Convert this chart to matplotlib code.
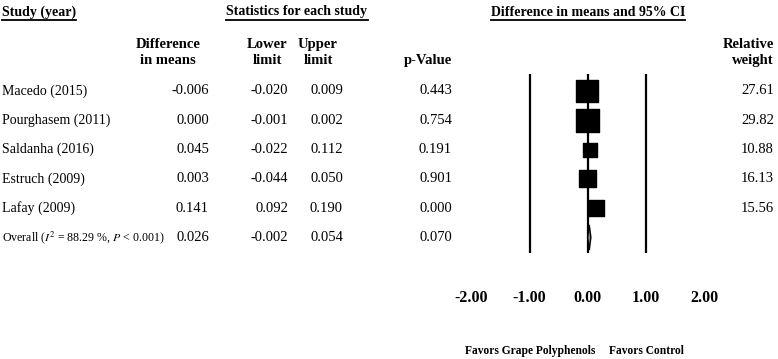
import numpy as np
import matplotlib
matplotlib.use('Agg')
import matplotlib.pyplot as plt
from matplotlib.transforms import blended_transform_factory
from matplotlib.lines import Line2D

plt.rcParams['font.family'] = ['Liberation Serif', 'DejaVu Serif']
plt.rcParams['mathtext.fontset'] = 'stix'

# data
studies = ['Macedo (2015)', 'Pourghasem (2011)', 'Saldanha (2016)',
           'Estruch (2009)', 'Lafay (2009)']
diff = [-0.006, 0.000, 0.045, 0.003, 0.141]
lower = [-0.020, -0.001, -0.022, -0.044, 0.092]
upper = [0.009, 0.002, 0.112, 0.050, 0.190]
pval = [0.443, 0.754, 0.191, 0.901, 0.000]
weight = [27.61, 29.82, 10.88, 16.13, 15.56]

overall_label = r'Overall ($I^2$ = 88.29 %, $P$ < 0.001)'
overall = (0.026, -0.002, 0.054, 0.070)

xticks = [-2, -1, 0, 1, 2]

W, H = 778, 359
fig = plt.figure(figsize=(W / 100, H / 100), dpi=100)

def fx(px):
    return px / W

def fy(py):
    return 1 - py / H

# forest axes: x -2..2 spans px 471.5..704, rows span px 74..253
ax = fig.add_axes([fx(471.5), fy(253), fx(704) - fx(471.5), (253 - 74) / H])
ax.set_xlim(-2, 2)
ax.set_ylim(5.53, -0.58)
for s in ax.spines.values():
    s.set_visible(False)
ax.set_yticks([])
ax.set_xticks(xticks)
ax.set_xticklabels(['%.2f' % t for t in xticks], fontweight='bold', fontsize=11.5)
ax.tick_params(axis='x', length=0, pad=27)

for v in (-1, 0, 1):
    ax.axvline(v, color='k', lw=1.6)

rows = np.arange(len(studies))
ax.hlines(rows, lower, upper, color='k', lw=1.2)
sizes = 9.14 * np.array(weight)
ax.scatter(diff, rows, s=sizes, marker='s', color='k', zorder=3)

# overall diamond
d, lo, hi, _ = overall
yo = len(studies)
ax.fill([lo, d, hi, d], [yo, yo - 0.43, yo, yo + 0.43],
        facecolor='#888888', edgecolor='k', lw=1.0, zorder=3)

# text columns
tr = blended_transform_factory(fig.transFigure, ax.transData)
fs = 10.5
for i, name in enumerate(studies):
    ax.text(fx(2), i, name, transform=tr, ha='left', va='center', fontsize=10)
    ax.text(fx(209), i, '%.3f' % diff[i], transform=tr, ha='right', va='center', fontsize=fs)
    ax.text(fx(288), i, '%.3f' % lower[i], transform=tr, ha='right', va='center', fontsize=fs)
    ax.text(fx(343), i, '%.3f' % upper[i], transform=tr, ha='right', va='center', fontsize=fs)
    ax.text(fx(452), i, '%.3f' % pval[i], transform=tr, ha='right', va='center', fontsize=fs)
    ax.text(fx(774), i, '%.2f' % weight[i], transform=tr, ha='right', va='center', fontsize=fs)

ax.text(fx(2), yo, overall_label, transform=tr, ha='left', va='center', fontsize=8.6)
ax.text(fx(209), yo, '%.3f' % overall[0], transform=tr, ha='right', va='center', fontsize=fs)
ax.text(fx(288), yo, '%.3f' % overall[1], transform=tr, ha='right', va='center', fontsize=fs)
ax.text(fx(343), yo, '%.3f' % overall[2], transform=tr, ha='right', va='center', fontsize=fs)
ax.text(fx(452), yo, '%.3f' % overall[3], transform=tr, ha='right', va='center', fontsize=fs)

# column headers, one line at a time on fixed baselines
hd = dict(fontsize=fs, fontweight='bold', va='baseline')
headers = [(168, 'center', 'Difference', 'in means'),
           (267, 'center', 'Lower', 'limit'),
           (318, 'center', 'Upper', 'limit'),
           (774, 'right', 'Relative', 'weight')]
for x, ha, l1, l2 in headers:
    fig.text(fx(x), fy(48), l1, ha=ha, **hd)
    fig.text(fx(x), fy(64), l2, ha=ha, **hd)
fig.text(fx(452), fy(64), 'p-Value', ha='right', **hd)

# top titles, underlined
titles = [(2, 'left', 'Study (year)'), (297, 'center', 'Statistics for each study'),
          (588, 'center', 'Difference in means and 95% CI')]
renderer = fig.canvas.get_renderer()
for x, ha, t in titles:
    txt = fig.text(fx(x), fy(12), t, ha=ha, va='center', fontsize=10, fontweight='bold')
    bb = txt.get_window_extent(renderer).transformed(fig.transFigure.inverted())
    fig.add_artist(Line2D([bb.x0, bb.x1], [bb.y0 - 0.004, bb.y0 - 0.004],
                          color='k', lw=1.3, transform=fig.transFigure))

fig.text(fx(530), fy(351), 'Favors Grape Polyphenols', ha='center', va='center',
         fontsize=8.3, fontweight='bold')
fig.text(fx(646), fy(351), 'Favors Control', ha='center', va='center',
         fontsize=8.3, fontweight='bold')

fig.savefig('out.png', dpi=100)
